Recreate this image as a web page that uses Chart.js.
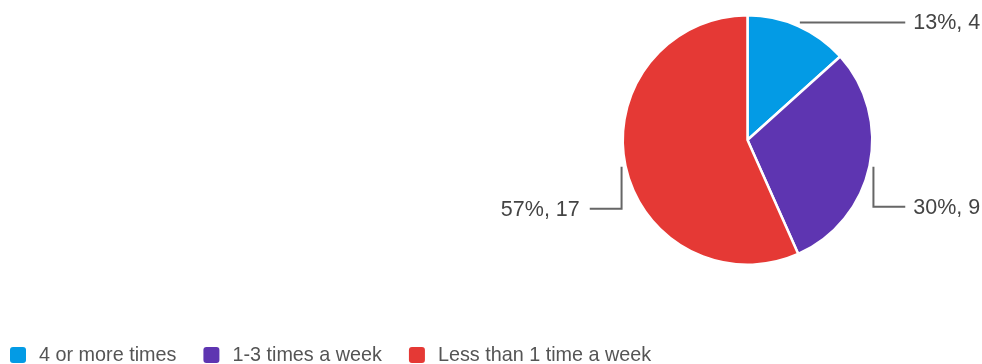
<!DOCTYPE html>
<html>
<head>
<meta charset="utf-8">
<script src="https://cdn.jsdelivr.net/npm/chart.js@4"></script>
<style>
  html, body { margin: 0; padding: 0; background: #fff; }
  #wrap { width: 982px; height: 364px; }
</style>
</head>
<body>
<div id="wrap"><canvas id="chart" width="982" height="364"></canvas></div>
<script>
// survey answers
const labels = ["4 or more times", "1-3 times a week", "Less than 1 time a week"];
const counts = [4, 9, 17];
const colors = ["#039be5", "#5e35b1", "#e53935"];

const FONT = "Arial, 'Liberation Sans', sans-serif";

// leader lines + "pct, count" labels, google forms style
const sliceLabels = {
  id: "sliceLabels",
  afterDatasetsDraw(chart) {
    const ctx = chart.ctx;
    const arcs = chart.getDatasetMeta(0).data;
    const total = counts.reduce((a, b) => a + b, 0);
    const drop = [0, 40, 42]; // how far the label sits below the slice edge
    ctx.save();
    arcs.forEach((arc, i) => {
      const { x, y, startAngle, endAngle, outerRadius } = arc.getProps(["x", "y", "startAngle", "endAngle", "outerRadius"], true);
      const mid = (startAngle + endAngle) / 2;
      const ax = x + Math.cos(mid) * (outerRadius + 4);
      const ay = y + Math.sin(mid) * (outerRadius + 4);
      const ly = ay + drop[i];
      const right = Math.cos(mid) >= 0;
      const ex = right ? x + outerRadius + 33 : x - outerRadius - 33;

      ctx.strokeStyle = "#666";
      ctx.lineWidth = 2;
      ctx.beginPath();
      ctx.moveTo(ax, ay);
      ctx.lineTo(ax, ly);
      ctx.lineTo(ex, ly);
      ctx.stroke();

      const txt = Math.round(counts[i] / total * 100) + "%, " + counts[i];
      ctx.font = "21.5px " + FONT;
      ctx.fillStyle = "#444";
      ctx.textBaseline = "middle";
      ctx.textAlign = right ? "left" : "right";
      ctx.fillText(txt, right ? ex + 8 : ex - 10, ly + 1);
    });
    ctx.restore();
  }
};

// legend along the bottom-left
const bottomLegend = {
  id: "bottomLegend",
  afterDraw(chart) {
    const ctx = chart.ctx;
    let x = 10;
    const y = 355;
    ctx.save();
    ctx.font = "19.8px " + FONT;
    ctx.textBaseline = "middle";
    ctx.textAlign = "left";
    labels.forEach((lab, i) => {
      ctx.fillStyle = colors[i];
      ctx.beginPath();
      ctx.roundRect(x, y - 8, 16, 16, 3);
      ctx.fill();
      ctx.fillStyle = "#555";
      ctx.fillText(lab, x + 29, y + 1);
      x += 29 + ctx.measureText(lab).width + 27;
    });
    ctx.restore();
  }
};

new Chart(document.getElementById("chart"), {
  type: "pie",
  data: {
    labels: labels,
    datasets: [{
      data: counts,
      backgroundColor: colors,
      borderColor: "#fff",
      borderWidth: 2.5
    }]
  },
  options: {
    responsive: false,
    animation: false,
    layout: { padding: { left: 513, right: 0, top: 14, bottom: 98 } },
    plugins: {
      legend: { display: false },
      tooltip: { enabled: false }
    }
  },
  plugins: [sliceLabels, bottomLegend]
});
</script>
</body>
</html>
